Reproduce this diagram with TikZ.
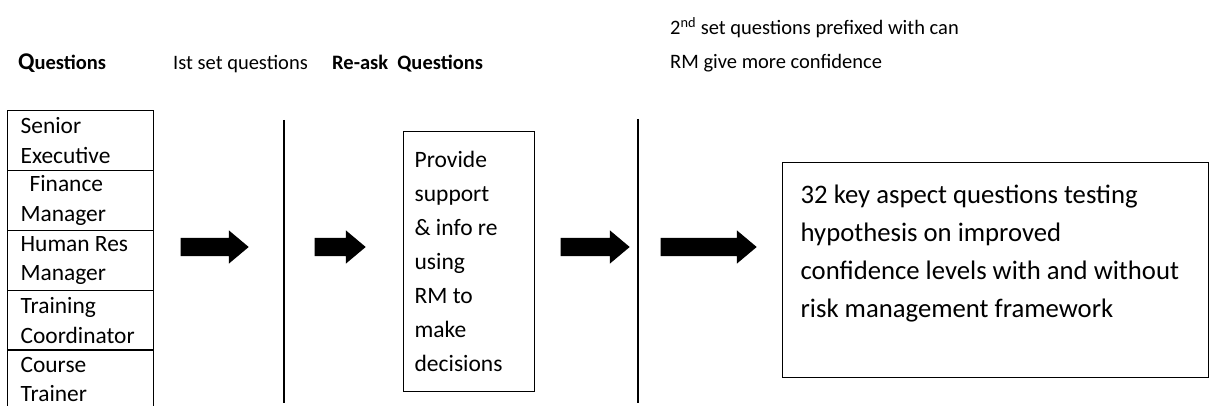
\documentclass[tikz,border=0pt]{standalone}
\usepackage{fontspec}
\setmainfont{Carlito}
\usetikzlibrary{shapes.arrows}

\begin{document}
\begin{tikzpicture}[x=1pt,y=-1pt,
  frame/.style={draw=black, line width=1.3pt},
  rolebox/.style={frame, minimum width=146pt, minimum height=60pt,
    text width=120pt, inner xsep=13pt, inner ysep=0pt, align=flush left,
    anchor=north west, font=\fontsize{23.4}{29.5}\selectfont},
  heading/.style={anchor=base west, inner sep=0pt, font=\fontsize{20.5}{25}\selectfont},
  blockarrow/.style={single arrow, draw=none, fill=black, inner xsep=0pt, inner ysep=9pt,
    single arrow head extend=7.5pt, single arrow tip angle=80, anchor=tip},
  divider/.style={line width=1.3pt}
]
\clip (0,0) rectangle (1210,406);
\fill[white] (0,0) rectangle (1210,406);

% column headings
\node[heading] (hq) at (18,70) {\bfseries{\fontsize{24}{25}\selectfont Q}uestions};
\node[heading] (h1) at (173,70) {Ist set questions};
\node[heading] (hr) at (332,70) {\bfseries Re-ask\ \ Questions};
\node[heading] (h2a) at (670,35) {2\textsuperscript{nd} set questions prefixed with can};
\node[heading] (h2b) at (670,69) {RM give more confidence};

% respondent roles
\node[rolebox] (r1) at (7,110) {Senior\\Executive};
\node[rolebox] (r2) at (7,170) {\hspace*{9pt}Finance\\Manager};
\node[rolebox] (r3) at (7,230) {Human Res\\Manager};
\node[rolebox] (r4) at (7,290) {Training\\Coordinator};
\node[rolebox] (r5) at (7,349) {Course\\Trainer};

% dividers between stages
\coordinate (d1t) at (284,120); \coordinate (d1b) at (284,403);
\coordinate (d2t) at (638,119); \coordinate (d2b) at (638,403);
\draw[divider] (d1t) -- (d1b);
\draw[divider] (d2t) -- (d2b);

% re-ask support box
\node[frame, anchor=north west, minimum width=131pt, minimum height=260pt,
  text width=109pt, inner xsep=11pt, align=flush left,
  font=\fontsize{23.5}{34}\selectfont] (sup) at (403,131)
  {Provide\\support\\\& info re\\using\\RM to\\make\\decisions};

% key aspect questions box
\node[frame, anchor=north west, minimum width=426pt, minimum height=215pt,
  text width=390pt, inner xsep=18pt, align=flush left,
  font=\fontsize{26.7}{38}\selectfont] (key) at (782,162)
  {32 key aspect questions testing\\hypothesis on improved\\confidence levels with and without\\risk management framework\\\mbox{}};

% flow arrows, placed by their tips
\node[blockarrow, minimum height=68pt] (a1) at (249,247) {};
\node[blockarrow, minimum height=51pt] (a2) at (366,247) {};
\node[blockarrow, minimum height=69pt] (a3) at (630,247) {};
\node[blockarrow, minimum height=96pt] (a4) at (757,247) {};
\end{tikzpicture}
\end{document}
